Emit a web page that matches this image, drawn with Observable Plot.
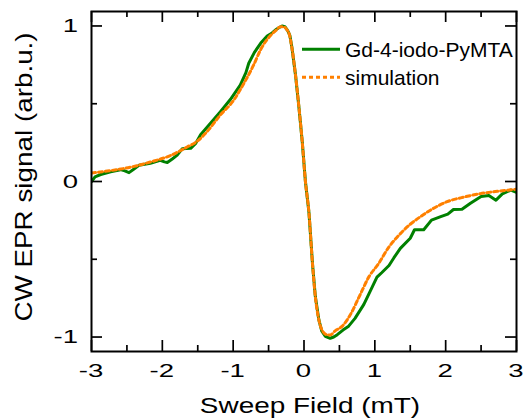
<!DOCTYPE html>
<html><head><meta charset="utf-8">
<script src="https://cdn.jsdelivr.net/npm/d3@7"></script>
<script src="https://cdn.jsdelivr.net/npm/@observablehq/plot@0.6"></script>
<style>html,body{margin:0;padding:0;background:#fff}</style>
</head><body><div id="chart"></div>
<script>
// Experimental spectrum (Gd-4-iodo-PyMTA)
const expX = [-3.00,-2.95,-2.87,-2.73,-2.59,-2.53,-2.47,-2.40,-2.33,-2.17,-2.03,-1.97,-1.93,-1.86,-1.79,-1.72,-1.60,-1.53,-1.46,-1.32,-1.18,-1.04,-0.90,-0.82,-0.78,-0.70,-0.61,-0.52,-0.45,-0.40,-0.35,-0.31,-0.27,-0.23,-0.20,-0.17,-0.12,-0.07,-0.025,0.02,0.07,0.12,0.16,0.21,0.25,0.30,0.37,0.42,0.47,0.55,0.63,0.72,0.845,0.93,1.03,1.10,1.20,1.27,1.36,1.50,1.56,1.69,1.80,1.93,2.03,2.11,2.23,2.35,2.50,2.61,2.71,2.80,2.92,3.00];
const expY = [0.00,0.03,0.045,0.063,0.076,0.068,0.057,0.08,0.104,0.117,0.136,0.126,0.122,0.145,0.17,0.21,0.213,0.245,0.30,0.374,0.449,0.527,0.62,0.70,0.76,0.83,0.89,0.935,0.955,0.975,0.99,1.0,0.995,0.97,0.94,0.86,0.685,0.47,0.256,0.0,-0.2,-0.53,-0.74,-0.89,-0.96,-0.995,-1.008,-1.0,-0.985,-0.955,-0.93,-0.88,-0.79,-0.71,-0.615,-0.585,-0.54,-0.49,-0.43,-0.365,-0.31,-0.31,-0.248,-0.226,-0.21,-0.18,-0.179,-0.14,-0.096,-0.09,-0.12,-0.08,-0.055,-0.07];
// Simulation
const simX = [-3.00,-2.73,-2.45,-2.17,-1.88,-1.65,-1.51,-1.37,-1.18,-0.99,-0.85,-0.71,-0.61,-0.47,-0.40,-0.33,-0.29,-0.24,-0.21,-0.17,-0.12,-0.07,-0.025,0.02,0.07,0.12,0.16,0.21,0.26,0.32,0.37,0.44,0.54,0.65,0.78,0.92,1.05,1.20,1.32,1.50,1.645,1.80,2.02,2.26,2.49,2.73,3.00];
const simY = [0.055,0.07,0.092,0.125,0.168,0.222,0.258,0.32,0.428,0.524,0.63,0.75,0.85,0.94,0.97,0.995,0.995,0.975,0.95,0.857,0.685,0.47,0.256,0.0,-0.2,-0.53,-0.74,-0.89,-0.96,-0.985,-0.987,-0.96,-0.93,-0.86,-0.74,-0.61,-0.53,-0.42,-0.355,-0.275,-0.226,-0.18,-0.13,-0.1,-0.078,-0.063,-0.05];

const seriesNames = ["Gd-4-iodo-PyMTA", "simulation"];
const seriesColors = ["#008000", "#FF8000"];
const xTicks = [-3, -2, -1, 0, 1, 2, 3];
const xMinor = [-2.5, -1.5, -0.5, 0.5, 1.5, 2.5];
const yTicks = [-1, 0, 1];
const yMinor = [-0.5, 0.5];
const xTitle = "Sweep Field (mT)";
const yTitle = "CW EPR signal (arb.u.)";

const W = 526, H = 420, ML = 91, MR = 10, MT = 11, MB = 69;
const innerW = W - ML - MR, innerH = H - MT - MB;
const MAJ = 11, MIN = 6;
const font = "'Liberation Sans', Arial, Helvetica, sans-serif";
const DASH = "4,3";

const exp = expX.map((x, i) => ({x, y: expY[i]}));
const sim = simX.map((x, i) => ({x, y: simY[i]}));
const tk = {stroke: "#000", strokeWidth: 1.7};

const plot = Plot.plot({
  width: W, height: H,
  marginLeft: ML, marginRight: MR, marginTop: MT, marginBottom: MB,
  x: {domain: [-3, 3], axis: null},
  y: {domain: [-1.093, 1.093], axis: null},
  style: {fontFamily: font, background: "#fff", color: "#000"},
  marks: [
    Plot.line(exp, {x: "x", y: "y", stroke: seriesColors[0], strokeWidth: 3, clip: true, curve: "linear", ariaDescription: "exp"}),
    Plot.line(sim, {x: "x", y: "y", stroke: seriesColors[1], strokeWidth: 3, strokeDasharray: DASH, clip: true, curve: "monotone-x", ariaDescription: "sim"}),
    Plot.tickX(xTicks, {x: d => d, insetTop: innerH - MAJ, ...tk}),
    Plot.tickX(xTicks, {x: d => d, insetBottom: innerH - MAJ, ...tk}),
    Plot.tickX(xMinor, {x: d => d, insetTop: innerH - MIN, ...tk}),
    Plot.tickX(xMinor, {x: d => d, insetBottom: innerH - MIN, ...tk}),
    Plot.tickY(yTicks, {y: d => d, insetRight: innerW - MAJ, ...tk}),
    Plot.tickY(yTicks, {y: d => d, insetLeft: innerW - MAJ, ...tk}),
    Plot.tickY(yMinor, {y: d => d, insetRight: innerW - MIN, ...tk}),
    Plot.tickY(yMinor, {y: d => d, insetLeft: innerW - MIN, ...tk}),
    Plot.frame({stroke: "#000", strokeWidth: 2}),
    Plot.text(xTicks, {x: d => d, text: d => String(d), frameAnchor: "bottom", textAnchor: "middle", lineAnchor: "bottom", fontSize: 19, fontFamily: font, fill: "#000", ariaDescription: "xtick"}),
    Plot.text(yTicks, {y: d => d, text: d => String(d), frameAnchor: "left", textAnchor: "end", lineAnchor: "bottom", fontSize: 19, fontFamily: font, fill: "#000", ariaDescription: "ytick"}),
    Plot.text([xTitle], {text: d => d, frameAnchor: "bottom", textAnchor: "middle", lineAnchor: "bottom", fontSize: 22, fontFamily: font, fill: "#000", ariaDescription: "xtitle"}),
    Plot.text([yTitle], {text: d => d, frameAnchor: "left", textAnchor: "middle", lineAnchor: "bottom", fontSize: 24, fontFamily: font, fill: "#000", ariaDescription: "ytitle"})
  ]
});

const xs = plot.scale("x"), ys = plot.scale("y");
// place each label through Plot's scales, widening the glyphs like the reference
function place(desc, fn, s) {
  const g = plot.querySelector(`g[aria-description="${desc}"]`);
  if (!g) return;
  g.removeAttribute("transform");
  g.querySelectorAll("text").forEach(el => {
    const [tx, ty, rot] = fn(el.textContent);
    el.removeAttribute("x"); el.removeAttribute("y");
    el.setAttribute("transform", `translate(${tx},${ty})${rot ? ` rotate(${rot})` : ""} scale(${s},1)`);
  });
}
const bottom = H - MB;
place("xtick", t => [xs.apply(+t), bottom + 25.7], 1.45);
place("ytick", t => [ML - 13, ys.apply(+t) + 6.6], 1.45);
place("xtitle", () => [ML + innerW / 2 + 6.5, bottom + 62.3], 1.27);
place("ytitle", () => [31.7, MT + innerH / 2 - 4, -90], 1.16);

// make sure the simulation path is dashed
plot.querySelectorAll('g[aria-description="sim"] path').forEach(p => p.setAttribute("stroke-dasharray", DASH));

// legend
const svg = d3.select(plot);
const leg = svg.append("g").attr("aria-label", "legend");
const legRows = [49.3, 77.3];
seriesNames.forEach((name, i) => {
  const ly = legRows[i];
  const ln = leg.append("line").attr("x1", 302).attr("x2", 340).attr("y1", ly).attr("y2", ly)
    .attr("stroke", seriesColors[i]).attr("stroke-width", 3);
  if (i === 1) ln.attr("stroke-dasharray", DASH);
  leg.append("text").attr("x", 345).attr("y", ly + 7.5).attr("text-anchor", "start")
    .attr("font-family", font).attr("font-size", 21).attr("fill", "#000").text(name);
});

document.getElementById("chart").appendChild(plot);
</script>
</body></html>
